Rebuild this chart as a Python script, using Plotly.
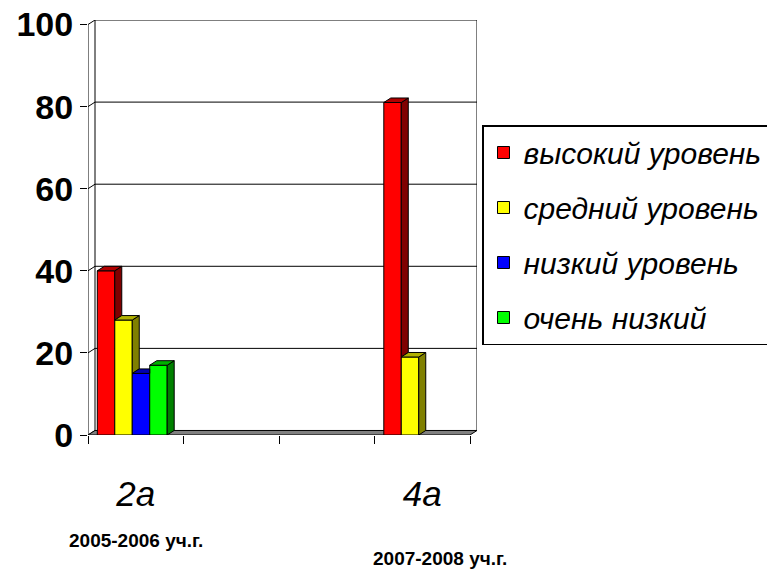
import plotly.graph_objects as go

# ---------------- data ----------------
categories = ["2а", "", "", "4а"]
series_names = ["высокий уровень", "средний уровень", "низкий уровень", "очень низкий"]
high = [40, 0, 0, 81]
medium = [28, 0, 0, 19]
low = [15, 0, 0, 0]
very_low = [17, 0, 0, 0]
y_ticks = [0, 20, 40, 60, 80, 100]
school_years = ["2005-2006 уч.г.", "2007-2008 уч.г."]

# ---------------- style ----------------
front_colors = ["#FF0000", "#FFFF00", "#0000FF", "#00FF00"]
side_colors = ["#800000", "#808000", "#000080", "#008000"]
top_colors = ["#B00000", "#B0B000", "#0000B0", "#00B000"]
FONT = "Liberation Sans, Arial, sans-serif"

series = [high, medium, low, very_low]
n_series = len(series)
n_cat = len(categories)

DX = 0.0733   # 3-D depth, x units
DY = 1.1      # 3-D depth, y units
BAR_W = 0.183
X0, X1 = -0.5, n_cat - 0.5
Y_MAX = y_ticks[-1]
start = -n_series * BAR_W / 2 - DX / 2

fig = go.Figure()

# front faces (real bars)
for i, (name, vals) in enumerate(zip(series_names, series)):
    fig.add_trace(go.Bar(
        x=list(range(n_cat)),
        y=[v if v else None for v in vals],
        width=BAR_W,
        offset=start + i * BAR_W,
        marker=dict(color=front_colors[i], line=dict(color="black", width=1)),
        name=name,
        legendgroup=name,
        hoverinfo="name+y",
    ))

# side and top faces
for c in range(n_cat):
    for i in range(n_series):
        v = series[i][c]
        if not v:
            continue
        xl = c + start + i * BAR_W
        xr = xl + BAR_W
        vn = (series[i + 1][c] if i + 1 < n_series else 0) or 0
        if vn < v:
            fig.add_trace(go.Scatter(
                x=[xr, xr + DX, xr + DX, xr, xr],
                y=[vn, vn + DY, v + DY, v, vn],
                mode="lines", fill="toself", fillcolor=side_colors[i],
                line=dict(color="black", width=1),
                showlegend=False, hoverinfo="skip"))
            tx = [xl, xr, xr + DX, xl + DX, xl]
        else:
            tx = [xl, xr, xr, xl + DX, xl]
        fig.add_trace(go.Scatter(
            x=tx, y=[v, v, v + DY, v + DY, v],
            mode="lines", fill="toself", fillcolor=top_colors[i],
            line=dict(color="black", width=1),
            showlegend=False, hoverinfo="skip"))

# walls and floor (drawn beneath the bars)
shapes = []
line = dict(color="black", width=1)
for v in y_ticks[1:]:
    shapes.append(dict(type="line", layer="below", xref="x", yref="y",
                       x0=X0 + DX, x1=X1 + DX, y0=v + DY, y1=v + DY, line=line))
for v in y_ticks:
    shapes.append(dict(type="line", layer="below", xref="x", yref="y",
                       x0=X0, x1=X0 + DX, y0=v, y1=v + DY, line=line))
for xx in (X0 + DX, X1 + DX):
    shapes.append(dict(type="line", layer="below", xref="x", yref="y",
                       x0=xx, x1=xx, y0=DY, y1=Y_MAX + DY, line=line))
shapes.append(dict(type="line", layer="below", xref="x", yref="y",
                   x0=X0, x1=X0, y0=0, y1=Y_MAX, line=line))
shapes.append(dict(type="path", layer="below", xref="x", yref="y",
                   path=f"M{X0},0 L{X1},0 L{X1 + DX},{DY} L{X0 + DX},{DY} Z",
                   fillcolor="#808080", line=line))

L, R, T, B = 88, 290, 20, 135
W, H = 767, 570
pw, ph = W - L - R, H - T - B


def px(xp):
    return (xp - L) / pw


def py(yp):
    return (H - B - yp) / ph


annotations = [
    dict(text=school_years[0], xref="paper", yref="paper", x=px(136), y=py(540),
         xanchor="center", yanchor="middle", showarrow=False,
         font=dict(family=FONT, size=19, color="black", weight="bold")),
    dict(text=school_years[1], xref="paper", yref="paper", x=px(440), y=py(558),
         xanchor="center", yanchor="middle", showarrow=False,
         font=dict(family=FONT, size=19, color="black", weight="bold")),
]

fig.update_layout(
    width=W, height=H,
    margin=dict(l=L, r=R, t=T, b=B, autoexpand=False),
    paper_bgcolor="white", plot_bgcolor="white",
    barmode="overlay",
    shapes=shapes,
    annotations=annotations,
    showlegend=True,
    legend=dict(
        x=px(482), y=py(125), xanchor="left", yanchor="top",
        bordercolor="black", borderwidth=1.5, bgcolor="white",
        font=dict(family=FONT, size=30, color="black", style="italic"),
        traceorder="grouped", tracegroupgap=13,
    ),
    xaxis=dict(
        range=[X0, X1 + DX], tickmode="array", tickvals=list(range(n_cat)),
        ticktext=categories, ticks="", showgrid=False, zeroline=False, showline=False,
        automargin=False,
        tickfont=dict(family=FONT, size=35, color="black", style="italic"),
        ticklabelstandoff=35,
        minor=dict(tickmode="array", tickvals=[X0 + k for k in range(n_cat + 1)],
                   ticks="outside", ticklen=8, tickcolor="black", tickwidth=1),
    ),
    yaxis=dict(
        range=[0, Y_MAX + DY], tickmode="array", tickvals=y_ticks,
        ticks="outside", ticklen=7, tickcolor="black", tickwidth=1,
        showgrid=False, zeroline=False, showline=False, automargin=False,
        tickfont=dict(family=FONT, size=34, color="black", weight="bold"),
    ),
)

fig.write_html("out.html", config={"displayModeBar": False},
               post_script="document.body.style.margin='0';")
